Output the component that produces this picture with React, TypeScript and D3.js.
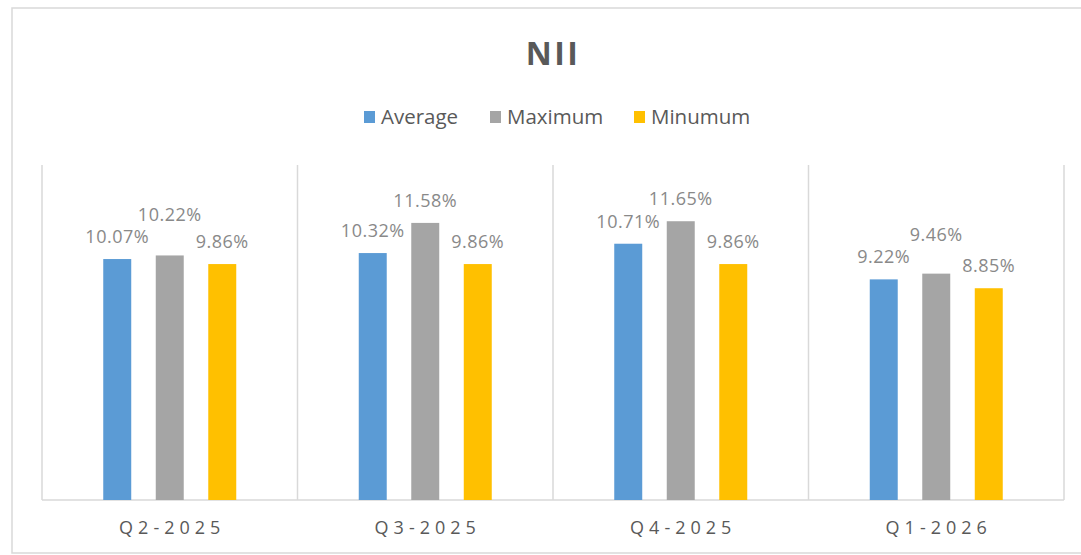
import React from "react"
import * as d3 from "d3"

// Data
const categories = ["Q2-2025", "Q3-2025", "Q4-2025", "Q1-2026"]
const series = ["Average", "Maximum", "Minumum"]
const average = [10.07, 10.32, 10.71, 9.22]
const maximum = [10.22, 11.58, 11.65, 9.46]
const minimum = [9.86, 9.86, 9.86, 8.85]
const colors = ["#5B9BD5", "#A5A5A5", "#FFC000"]

const values = [average, maximum, minimum]

const FONT = "'Open Sans', 'Liberation Sans', sans-serif"

export default function App() {
  // Dimensions
  const totalW = 1081
  const totalH = 555
  const plot = { left: 42, right: 1064, top: 165, bottom: 500 }

  // Scales
  const xScale = d3
    .scaleBand()
    .domain(categories)
    .range([plot.left, plot.right])
    .padding(0)
  const inner = d3
    .scaleBand()
    .domain(series)
    .range([-66.5, 66.5])
    .paddingInner(0.467)
    .paddingOuter(0)
  const yScale = d3.scaleLinear().domain([0, 14]).range([plot.bottom, plot.top])

  const fmt = (v) => `${v.toFixed(2)}%`

  // data labels, nudged up when neighbours collide
  const labels = []
  categories.forEach((c, ci) => {
    const row = series.map((s, si) => {
      const v = values[si][ci]
      return {
        key: `${c}-${s}`,
        x: xScale(c) + xScale.bandwidth() / 2 + inner(s) + inner.bandwidth() / 2,
        y: yScale(v) - 16,
        v,
        text: fmt(v),
      }
    })
    for (let i = 1; i < row.length; i++) {
      const a = row[i - 1]
      const b = row[i]
      const w = (a.text.length + b.text.length) * 5.8
      if (Math.abs(a.x - b.x) < w && Math.abs(a.y - b.y) < 18) {
        if (b.v >= a.v) b.y = Math.min(b.y, a.y - 22)
        else a.y = Math.min(a.y, b.y - 22)
      }
    }
    labels.push(...row)
  })

  const legendX = [364, 490, 634]

  return (
    <div style={{ position: "absolute", left: 0, top: 0 }}>
      <svg width={totalW} height={totalH} style={{ display: "block" }}>
        <rect width={totalW} height={totalH} fill="#fff" />
        {/* outer frame */}
        <path
          d={`M${totalW + 2},8 H12 V553 H${totalW + 2}`}
          fill="none"
          stroke="#d9d9d9"
          strokeWidth={1.5}
        />

        <text
          x={553}
          y={65}
          textAnchor="middle"
          fontFamily={FONT}
          fontWeight="bold"
          fontSize={32}
          letterSpacing={2.5}
          fill="#595959"
        >
          NII
        </text>

        {/* legend */}
        {series.map((s, i) => (
          <g key={s} transform={`translate(${legendX[i]}, 111)`}>
            <rect width={11} height={12} fill={colors[i]} />
            <text
              x={17}
              y={13}
              fontFamily={FONT}
              fontSize={20.5}
              fill="#595959"
            >
              {s}
            </text>
          </g>
        ))}

        {/* category separators */}
        {categories.concat(["end"]).map((c, i) => {
          const x = i < categories.length ? xScale(c) : plot.right
          return (
            <line
              key={`sep-${c}`}
              x1={x}
              x2={x}
              y1={plot.top}
              y2={plot.bottom}
              stroke="#d9d9d9"
              strokeWidth={1.5}
            />
          )
        })}
        <line
          x1={plot.left}
          x2={plot.right}
          y1={plot.bottom}
          y2={plot.bottom}
          stroke="#d9d9d9"
          strokeWidth={1.5}
        />

        {/* bars */}
        {categories.map((c, ci) =>
          series.map((s, si) => {
            const v = values[si][ci]
            return (
              <rect
                key={`${c}-${s}-bar`}
                x={xScale(c) + xScale.bandwidth() / 2 + inner(s)}
                y={yScale(v)}
                width={inner.bandwidth()}
                height={plot.bottom - yScale(v)}
                fill={colors[si]}
              />
            )
          })
        )}

        {labels.map((l) => (
          <text
            key={`${l.key}-label`}
            x={l.x}
            y={l.y}
            textAnchor="middle"
            fontFamily={FONT}
            fontSize={18}
            letterSpacing={0.5}
            fill="#898989"
          >
            {l.text}
          </text>
        ))}

        {/* x axis labels */}
        {categories.map((c) => (
          <text
            key={`${c}-tick`}
            x={xScale(c) + xScale.bandwidth() / 2 + 2.5}
            y={534}
            textAnchor="middle"
            fontFamily={FONT}
            fontSize={18}
            letterSpacing={5}
            fill="#595959"
          >
            {c}
          </text>
        ))}
      </svg>
    </div>
  )
}
